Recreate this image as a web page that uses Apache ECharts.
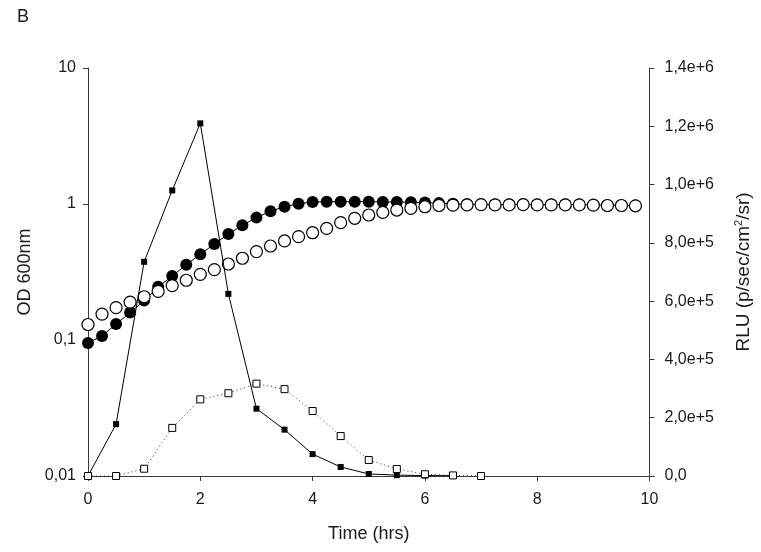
<!DOCTYPE html>
<html>
<head>
<meta charset="utf-8">
<script src="https://cdn.jsdelivr.net/npm/echarts@6/dist/echarts.min.js"></script>
<style>
html,body{margin:0;padding:0;background:#fff;}
#chart{width:761px;height:552px;}
</style>
</head>
<body>
<div id="chart"></div>
<script>
// OD 600nm (left log axis), sampled every 15 min
const odTime = [0,0.25,0.5,0.75,1,1.25,1.5,1.75,2,2.25,2.5,2.75,3,3.25,3.5,3.75,4,4.25,4.5,4.75,5,5.25,5.5,5.75,6,6.25,6.5,6.75,7,7.25,7.5,7.75,8,8.25,8.5,8.75,9,9.25,9.5,9.75];
const odFilled = [0.095,0.107,0.131,0.159,0.195,0.246,0.295,0.358,0.427,0.508,0.601,0.697,0.794,0.884,0.955,1.005,1.035,1.04,1.04,1.04,1.04,1.035,1.035,1.03,1.025,1.015,1.005,0.995,0.995,0.99,0.99,0.995,0.99,0.99,0.99,0.99,0.985,0.98,0.98,0.975];
const odOpen = [0.130,0.155,0.173,0.190,0.208,0.228,0.251,0.275,0.304,0.329,0.362,0.399,0.446,0.491,0.535,0.575,0.615,0.662,0.729,0.785,0.830,0.868,0.903,0.929,0.955,0.975,0.98,0.985,0.99,0.985,0.985,0.99,0.985,0.985,0.985,0.985,0.98,0.975,0.975,0.97];
// RLU (right linear axis), sampled every 30 min
const rluFilledTime = [0,0.5,1,1.5,2,2.5,3,3.5,4,4.5,5,5.5,6,6.5];
const rluFilled = [0,178000,735000,980000,1210000,625000,231000,159000,75000,31000,7000,3000,1500,1000];
const rluOpenTime = [0,0.5,1,1.5,2,2.5,3,3.5,4,4.5,5,5.5,6,6.5,7];
const rluOpen = [0,0,25000,165000,263000,284000,317000,298000,223000,137000,55000,24000,6000,2000,0];
// axes
const xTicks = [0,2,4,6,8,10];
const odTicks = [0.01,0.1,1,10];
const rluTicks = [0,200000,400000,600000,800000,1000000,1200000,1400000];

const pair = (xs, ys) => xs.map((x, i) => [x, ys[i]]);
const FONT = '"Liberation Sans", Arial, sans-serif';
const TXT = '#1a1a1a';
const AX = '#3a3a3a';

function odFmt(v) {
  const r = parseFloat(Number(v).toPrecision(3));
  return String(r).replace('.', ',');
}
function rluFmt(v) {
  if (v === 0) return '0,0';
  const e = Math.floor(Math.log10(v) + 1e-9);
  const m = v / Math.pow(10, e);
  return m.toFixed(1).replace('.', ',') + 'e+' + e;
}

const chart = echarts.init(document.getElementById('chart'), null, {renderer: 'canvas'});
chart.setOption({
  animation: false,
  backgroundColor: '#ffffff',
  textStyle: {fontFamily: FONT},
  title: {
    text: 'B', left: 12, top: 3,
    textStyle: {fontFamily: FONT, fontSize: 18, fontWeight: 'normal', color: TXT}
  },
  grid: {left: 88, right: 104, top: 68, bottom: 76, containLabel: false},
  xAxis: {
    type: 'value', min: xTicks[0], max: xTicks[xTicks.length - 1], interval: 2,
    name: 'Time (hrs)', nameLocation: 'middle', nameGap: 49,
    nameTextStyle: {fontFamily: FONT, fontSize: 18, color: TXT},
    axisLine: {show: true, onZero: false, lineStyle: {color: AX, width: 1}},
    axisTick: {show: true, inside: false, length: 5, lineStyle: {color: AX}},
    axisLabel: {margin: 16, fontFamily: FONT, fontSize: 16, color: TXT},
    splitLine: {show: false}
  },
  yAxis: [
    {
      type: 'log', logBase: 10, min: odTicks[0], max: odTicks[odTicks.length - 1],
      position: 'left',
      name: 'OD 600nm', nameLocation: 'middle', nameGap: 52, nameRotate: 90,
      nameTextStyle: {fontFamily: FONT, fontSize: 18, color: TXT},
      axisLine: {show: true, lineStyle: {color: AX, width: 1}},
      axisTick: {show: true, length: 5, lineStyle: {color: AX}},
      minorTick: {show: false},
      axisLabel: {margin: 12, fontFamily: FONT, fontSize: 16, color: TXT, formatter: odFmt},
      splitLine: {show: false}
    },
    {
      type: 'value', min: rluTicks[0], max: rluTicks[rluTicks.length - 1], interval: 200000,
      position: 'right',
      name: 'RLU (p/sec/cm{sup|2}/sr)', nameLocation: 'middle', nameGap: 84, nameRotate: 90,
      nameTextStyle: {
        fontFamily: FONT, fontSize: 19, color: TXT,
        rich: {sup: {fontFamily: FONT, fontSize: 11, color: TXT, verticalAlign: 'top', padding: [0, 0, 9, 0]}}
      },
      axisLine: {show: true, lineStyle: {color: AX, width: 1}},
      axisTick: {show: true, length: 5, lineStyle: {color: AX}},
      axisLabel: {margin: 15, fontFamily: FONT, fontSize: 16, color: TXT, formatter: rluFmt},
      splitLine: {show: false}
    }
  ],
  series: [
    {
      name: 'OD filled', type: 'line', yAxisIndex: 0, z: 2,
      data: pair(odTime, odFilled),
      symbol: 'circle', symbolSize: 12, showAllSymbol: true,
      itemStyle: {color: '#000', borderColor: '#000', borderWidth: 0},
      lineStyle: {color: '#000', width: 1}
    },
    {
      name: 'OD open', type: 'scatter', yAxisIndex: 0, z: 3,
      data: pair(odTime, odOpen),
      symbol: 'circle', symbolSize: 12,
      itemStyle: {color: '#fff', borderColor: '#000', borderWidth: 1.2, opacity: 1}
    },
    {
      name: 'RLU filled', type: 'line', yAxisIndex: 1, z: 4,
      data: pair(rluFilledTime, rluFilled),
      symbol: 'rect', symbolSize: 6, showAllSymbol: true,
      itemStyle: {color: '#000'},
      lineStyle: {color: '#000', width: 1}
    },
    {
      name: 'RLU open', type: 'line', yAxisIndex: 1, z: 5,
      data: pair(rluOpenTime, rluOpen),
      symbol: 'rect', symbolSize: 7, showAllSymbol: true,
      itemStyle: {color: '#fff', borderColor: '#000', borderWidth: 1},
      lineStyle: {color: '#333', width: 1, type: [1, 3]}
    }
  ]
});
</script>
</body>
</html>
